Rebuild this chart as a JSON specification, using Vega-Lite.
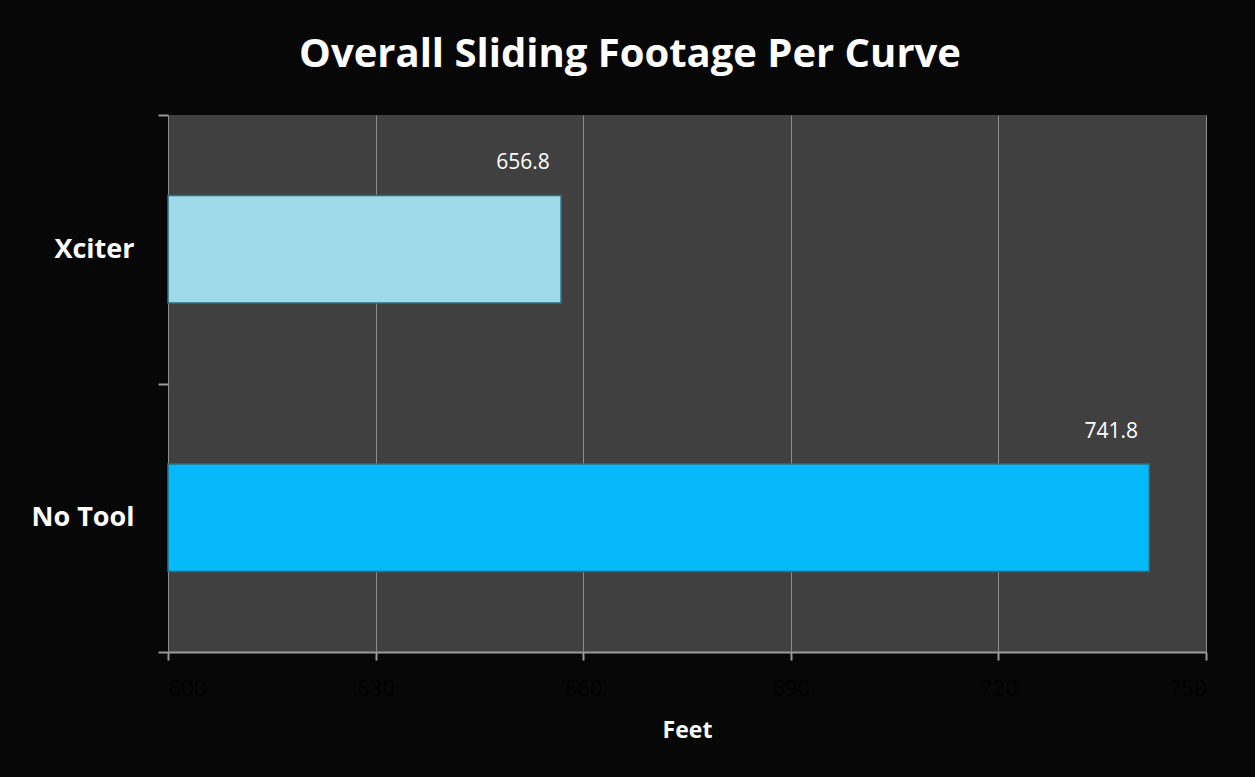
{
  "$schema": "https://vega.github.io/schema/vega-lite/v6.json",
  "width": 1038,
  "height": 537,
  "autosize": {"type": "none"},
  "padding": {"left": 168, "top": 115, "right": 49, "bottom": 125},
  "background": "#070707",
  "config": {
    "view": {"fill": "#404040", "stroke": null},
    "font": "Open Sans"
  },
  "title": {
    "text": "Overall Sliding Footage Per Curve",
    "fontSize": 40,
    "fontWeight": "bold",
    "color": "#ffffff",
    "font": "Open Sans",
    "anchor": "middle",
    "dx": -57,
    "offset": 26
  },
  "data": {
    "values": [
      {"tool": "Xciter", "feet": 656.8},
      {"tool": "No Tool", "feet": 741.8}
    ]
  },
  "encoding": {
    "y": {
      "field": "tool",
      "type": "nominal",
      "sort": ["Xciter", "No Tool"],
      "scale": {"paddingInner": 0, "paddingOuter": 0},
      "axis": {
        "title": null,
        "tickBand": "extent",
        "domain": false,
        "ticks": true,
        "tickColor": "#999999",
        "tickSize": 10,
        "tickWidth": 2,
        "grid": false,
        "labelColor": "#ffffff",
        "labelFontSize": 27,
        "labelFontWeight": "bold",
        "labelPadding": 24
      }
    },
    "x": {
      "field": "feet",
      "type": "quantitative",
      "scale": {"domain": [600, 750], "zero": false, "nice": false},
      "axis": {
        "title": "Feet",
        "titleColor": "#ffffff",
        "titleFontSize": 23,
        "titleFontWeight": "bold",
        "titlePadding": 20,
        "values": [600, 630, 660, 690, 720, 750],
        "labelColor": "#020202",
        "labelFontSize": 22,
        "labelPadding": 18,
        "domainColor": "#999999",
        "domainWidth": 2,
        "tickColor": "#999999",
        "tickSize": 8,
        "tickWidth": 2,
        "grid": true,
        "gridColor": "#8c8c8c",
        "gridWidth": 1
      }
    }
  },
  "layer": [
    {
      "mark": {"type": "bar", "height": {"band": 0.4}, "stroke": "#2a6f80", "strokeWidth": 1.5},
      "encoding": {
        "x2": {"datum": 600},
        "color": {
          "field": "tool",
          "type": "nominal",
          "scale": {"domain": ["Xciter", "No Tool"], "range": ["#9fdaea", "#05b9fb"]},
          "legend": null
        }
      }
    },
    {
      "mark": {"type": "text", "color": "#ffffff", "fontSize": 21, "align": "center", "baseline": "middle", "dx": -38, "dy": -86},
      "encoding": {
        "text": {"field": "feet", "type": "quantitative", "format": ".1f"}
      }
    }
  ]
}
